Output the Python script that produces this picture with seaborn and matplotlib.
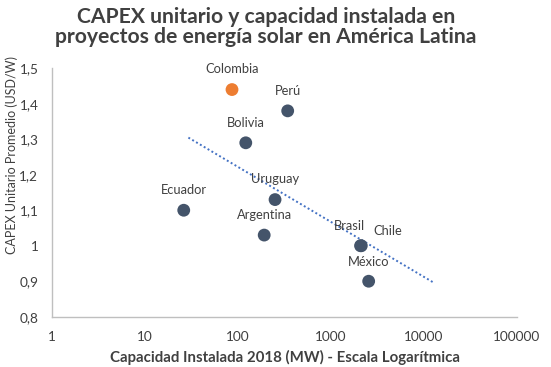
import numpy as np
import pandas as pd
import matplotlib
matplotlib.use("Agg")
import matplotlib.pyplot as plt
import seaborn as sns

# datos
paises = ["Colombia", "Perú", "Bolivia", "Uruguay", "Ecuador", "Argentina", "Brasil", "Chile", "México"]
capacidad_mw = [86, 342, 121, 250, 26, 191, 2080, 2120, 2545]
capex_usd_w = [1.44, 1.38, 1.29, 1.13, 1.10, 1.03, 1.00, 1.00, 0.90]
destacado = ["Colombia"]
forecast_mw = 10000  # pronostico hacia adelante de la tendencia

y_ticks = [0.8, 0.9, 1.0, 1.1, 1.2, 1.3, 1.4, 1.5]
y_ticklabels = ["0,8", "0,9", "1", "1,1", "1,2", "1,3", "1,4", "1,5"]
x_ticks = [1, 10, 100, 1000, 10000, 100000]
x_ticklabels = ["1", "10", "100", "1000", "10000", "100000"]

# posicion de etiquetas (offset en puntos)
offsets = {
    "Colombia": (0, 14.5), "Perú": (0, 14.5), "Bolivia": (0, 14.5), "Uruguay": (0, 14.5),
    "Ecuador": (0, 14.5), "Argentina": (0, 14.5), "Brasil": (-8, 14.5), "Chile": (19, 10.5),
    "México": (0, 14),
}

df = pd.DataFrame({"pais": paises, "mw": capacidad_mw, "capex": capex_usd_w})
df["grupo"] = np.where(df["pais"].isin(destacado), "dest", "otros")

sns.set_theme(style="white")
plt.rcParams["font.family"] = ["Lato", "DejaVu Sans"]
txt = "#404040"

fig = plt.figure(figsize=(5.51, 3.67), dpi=100)
ax = fig.add_axes([0.0949, 0.137, 0.843, 0.677])

# tendencia logaritmica
b, a = np.polyfit(np.log10(df["mw"]), df["capex"], 1)
x_end = df["mw"].max() + forecast_mw
xt = np.logspace(np.log10(df["mw"].min()) + 0.05, np.log10(x_end), 100)
trend = pd.DataFrame({"x": xt, "y": a + b * np.log10(xt)})
sns.lineplot(data=trend, x="x", y="y", ax=ax, color="#4472c4", linewidth=1.4,
             linestyle=(0, (1, 1.3)), zorder=1)

sns.scatterplot(data=df, x="mw", y="capex", hue="grupo",
                palette={"dest": "#ed7d31", "otros": "#44546a"},
                s=85, edgecolor="none", legend=False, ax=ax, zorder=3)

for _, r in df.iterrows():
    ax.annotate(r["pais"], (r["mw"], r["capex"]), textcoords="offset points",
                xytext=offsets[r["pais"]], ha="center", va="center",
                fontsize=9.3, color=txt)

ax.set_xscale("log")
ax.set_xlim(1, 100000)
ax.set_ylim(0.8, 1.5)
ax.set_xticks(x_ticks)
ax.set_xticklabels(x_ticklabels)
ax.set_yticks(y_ticks)
ax.set_yticklabels(y_ticklabels)
ax.minorticks_off()
ax.tick_params(axis="both", length=0, labelsize=9.8, colors=txt)
ax.tick_params(axis="x", pad=10)
ax.tick_params(axis="y", pad=10)

for s in ["top", "right"]:
    ax.spines[s].set_visible(False)
for s in ["left", "bottom"]:
    ax.spines[s].set_color("#bfbfbf")
    ax.spines[s].set_linewidth(1)

ax.set_xlabel("Capacidad Instalada 2018 (MW) - Escala Logarítmica",
              fontsize=10.8, fontweight="bold", color=txt)
ax.xaxis.set_label_coords(0.5, -0.133)
ax.set_ylabel("CAPEX Unitario Promedio (USD/W)", fontsize=9, color=txt)
ax.yaxis.set_label_coords(-0.074, 0.65)

fig.suptitle("CAPEX unitario y capacidad instalada en\nproyectos de energía solar en América Latina",
             x=0.483, y=0.982, fontsize=15.2, fontweight="bold", color=txt, linespacing=1.03)

fig.savefig("out.png", dpi=100)
